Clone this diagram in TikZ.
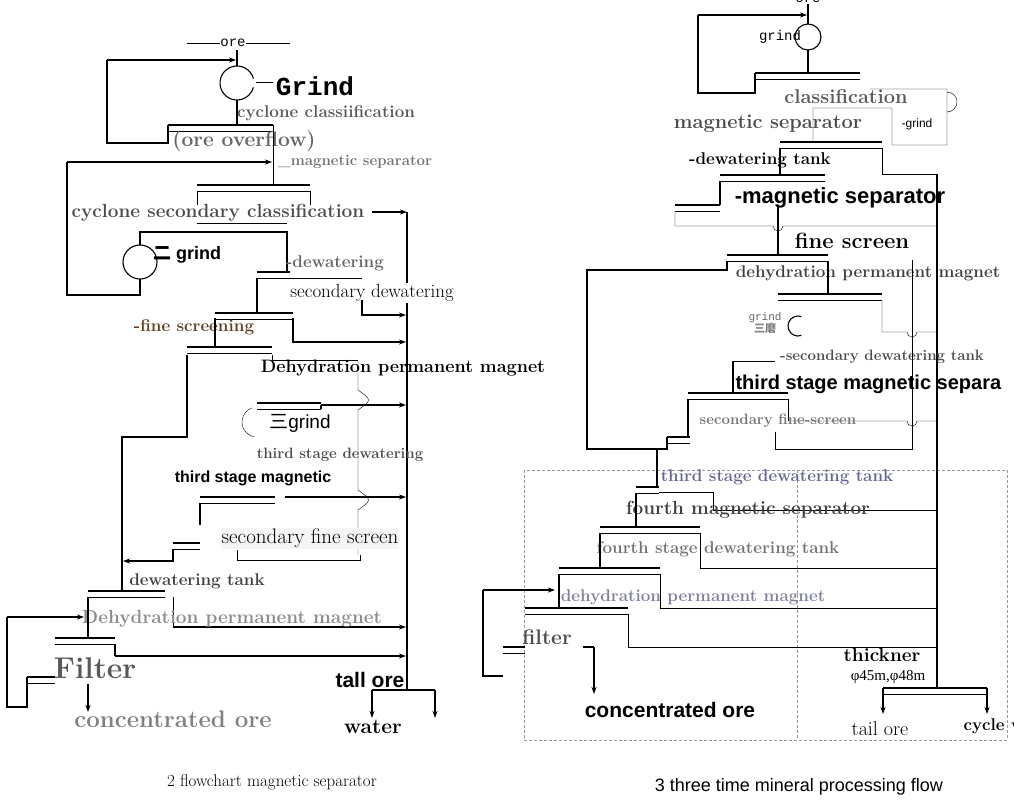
\documentclass[tikz,border=0pt]{standalone}
\usepackage{fontspec}
\newfontfamily\sansf{Liberation Sans}
\newfontfamily\monof{Liberation Mono}
\newfontfamily\seriff{Liberation Serif}
\newfontfamily\cjk{Noto Sans CJK SC}
\usetikzlibrary{arrows.meta}
\newcommand\eqb[3]{\draw[line width=2.2pt] (#1,#3) -- (#2,#3); \draw[thin] (#1,#3+6) -- (#2,#3+6);}
\begin{document}
\begin{tikzpicture}[x=1pt,y=-1pt,line width=1.1pt,
  ar/.style={-{Stealth[length=7pt,width=5pt]}},
  lb/.style={inner sep=1pt,font=\bfseries\fontsize{17}{17}\selectfont},
  gl/.style={lb,text=black!60},
  sb/.style={inner sep=1pt,font=\sansf\bfseries\fontsize{18}{18}\selectfont}]
\useasboundingbox (0,0) rectangle (1014,804);
\fill[white] (0,0) rectangle (1014,804);
% ================= LEFT =================
\draw[thin] (187,43) -- (290,43);
\node[inner sep=0,fill=white,font=\monof\fontsize{14}{14}\selectfont] (ore1) at (233,43) {ore};
\draw (237,50) -- (237,66);
\draw (237,83) ++(-15:17) arc (-15:-345:17);
\node[inner sep=1pt,font=\monof\bfseries\fontsize{26}{26}\selectfont] (grind1) at (315,86) {Grind};
\draw[thin] (256,82) -- (273,82);
\draw[ar] (107,60) -- (236,60);
\draw (107,60) -- (107,143) -- (168,143) -- (168,125);
\eqb{168}{273}{125}
\draw (237,100) -- (237,125);
\node[gl,text=black!65] (cc) at (326,113) {cyclone classiification};
\node[gl,font=\bfseries\fontsize{21}{21}\selectfont] (oo) at (244,141) {(ore overflow)};
\draw[thin] (273,125) -- (273,185);
\draw[ar] (67,162) -- (272,162);
\draw (67,162) -- (67,295) -- (140,295) -- (140,279);
\draw (140,262) circle (17);
\draw (140,245) -- (140,232) -- (287,232) -- (287,272);
\node[gl,text=black!55,font=\bfseries\fontsize{15}{15}\selectfont] (ms1) at (355,162) {\_magnetic separator};
\eqb{197}{310}{185}
\draw[thin] (197,191) -- (197,205); \draw[thin] (310,191) -- (310,205);
\node[lb,text=black!70,font=\bfseries\fontsize{19}{19}\selectfont] (csc) at (218,213) {cyclone secondary classification};
\draw[thick] (197,223) -- (287,223);
\draw[ar] (372,212) -- (407,212);
\draw (407,212) -- (407,690);
\node[sb] (g2) at (187,255) {{\cjk 二} grind};
\eqb{257}{290}{272}
\node[gl] (dw1) at (335,263) {-dewatering};
\draw[thin] (290,278) -- (362,278);
\node[inner sep=1pt,fill=white,font=\fontsize{19}{19}\selectfont] (sdw) at (372,293) {secondary dewatering};
\draw[ar] (362,300) -- (362,315) -- (406,315);
\draw (257,278) -- (257,313);
\eqb{215}{293}{313}
\draw[ar] (293,318) -- (293,342) -- (406,342);
\node[gl,text=black!50!brown] (fs1) at (194,327) {-fine screening};
\draw (215,318) -- (215,347);
\eqb{187}{272}{347}
\draw[thin] (272,355) -- (272,360) -- (358,360);
\draw[thin] (358,360) -- (358,390) .. controls (372,400) .. (358,410) -- (358,490) .. controls (372,500) .. (358,510) -- (358,555);
\node[lb,font=\bfseries\fontsize{18}{18}\selectfont] (dpm1) at (403,368) {Dehydration permanent magnet};
\draw (187,355) -- (187,437) -- (122,437) -- (122,591);
\eqb{257}{321}{403}
\draw (321,409) -- (321,405);
\draw[ar] (321,405) -- (406,405);
\draw[thin] (257,422) ++(100:15) arc (100:250:15);
\node[inner sep=1pt,font=\sansf\fontsize{19}{19}\selectfont] (g3) at (300,423) {{\cjk 三}grind};
\node[gl,text=black!70,font=\bfseries\fontsize{15}{15}\selectfont] (tsd) at (340,455) {third stage dewatering};
\node[sb,font=\sansf\bfseries\fontsize{16}{16}\selectfont] (tsm) at (253,478) {third stage magnetic};
\eqb{200}{275}{497}
\draw (200,503) -- (200,525);
\draw[ar] (285,497) -- (406,497);
\node[inner sep=1pt,fill=black!4,font=\fontsize{21}{21}\selectfont] (sfs) at (310,538) {secondary fine screen};
\eqb{173}{200}{543}
\draw[ar] (173,549) -- (173,561) -- (123,561);
\draw[thin] (237,550) -- (237,560) -- (360,560) -- (360,555);
\node[gl,text=black!75] (dt1) at (197,581) {dewatering tank};
\eqb{88}{165}{591}
\draw[thin] (173,597) -- (173,627);
\draw[ar] (173,627) -- (406,627);
\node[lb,text=black!45,font=\bfseries\fontsize{19}{19}\selectfont] (dpm2) at (232,619) {Dehydration permanent magnet};
\draw[ar] (7,617) -- (84,617);
\draw (7,617) -- (7,707) -- (27,707) -- (27,677);
\eqb{27}{55}{677}
\draw (88,597) -- (88,638);
\eqb{55}{115}{638}
\draw (115,644) -- (115,656);
\draw[ar] (115,656) -- (406,656);
\node[lb,text=black!65,font=\bfseries\fontsize{30}{30}\selectfont] (fil1) at (95,668) {Filter};
\draw[ar] (88,684) -- (88,712);
\node[lb,text=black!50,font=\bfseries\fontsize{24}{24}\selectfont] (co1) at (173,719) {concentrated ore};
\node[sb,font=\sansf\bfseries\fontsize{21}{21}\selectfont] (to1) at (370,680) {tall ore};
\draw (372,690) -- (435,690);
\draw[ar] (372,690) -- (372,718);
\draw[ar] (435,690) -- (435,718);
\node[lb,font=\bfseries\fontsize{21}{21}\selectfont] (wa) at (373,727) {water};
\node[font=\fontsize{17}{17}\selectfont] (cap1) at (272,782) {2 flowchart magnetic separator};
% ================= RIGHT =================
\draw[black!40,densely dashed,thin] (524,470) rectangle (1007,740);
\draw[black!40,densely dashed,thin] (797,470) -- (797,740);
\node[inner sep=0,font=\monof\fontsize{14}{14}\selectfont,anchor=south] (ore2) at (808,3) {ore};
\draw (808,4) -- (808,24);
\draw (808,37) circle (13);
\draw (808,50) -- (808,73);
\node[inner sep=0,font=\monof\fontsize{14}{14}\selectfont] (gr2) at (780,37) {grind};
\draw[ar] (698,15) -- (807,15);
\draw (698,15) -- (698,93) -- (755,93) -- (755,73);
\eqb{755}{860}{73}
\node[gl,text=black!65,font=\bfseries\fontsize{20}{20}\selectfont] (cl2) at (846,97) {classification};
\node[gl,text=black!70,font=\bfseries\fontsize{20}{20}\selectfont] (ms2) at (768,124) {magnetic separator};
\draw[thin] (870,89) -- (947,89) -- (947,112) arc (90:-90:10) -- (947,145) -- (892,145) -- (892,108) -- (813,108) -- (813,142);
\node[inner sep=0,font=\sansf\fontsize{12}{12}\selectfont] (gr3) at (917,124) {-grind};
\eqb{780}{882}{142}
\draw (780,148) -- (780,175);
\draw[thin] (882,148) -- (882,174) -- (937,174);
\draw (937,174) -- (937,688);
\node[lb] (dt2) at (760,160) {-dewatering tank};
\eqb{720}{825}{175}
\draw (720,181) -- (720,205);
\eqb{675}{720}{205}
\draw[thin] (675,211) -- (675,226) -- (773,226) arc (180:0:5) -- (937,226);
\node[sb,font=\sansf\bfseries\fontsize{22}{22}\selectfont] (ms3) at (840,198) {-magnetic separator};
\node[lb,font=\bfseries\fontsize{22}{22}\selectfont] (fs2) at (852,241) {fine screen};
\draw (778,205) -- (778,255);
\eqb{727}{828}{255}
\draw (727,261) -- (727,270) -- (587,270) -- (587,449) -- (667,449) -- (667,437);
\node[gl,text=black!75] (dpm3) at (868,273) {dehydration permanent magnet};
\draw (828,261) -- (828,294);
\eqb{778}{882}{294}
\draw[thin] (882,300) -- (882,332) -- (907,332) arc (180:0:5) -- (937,332);
\draw (798,326) ++(70:10) arc (70:290:10);
\node[inner sep=0,font=\monof\fontsize{11}{11}\selectfont,text=black!60] (gr4) at (765,318) {grind};
\node[inner sep=0,font=\cjk\bfseries\fontsize{11}{11}\selectfont,text=black!50] (gr4b) at (765,328) {三磨};
\node[gl,text=black!70,font=\bfseries\fontsize{15}{15}\selectfont] (sdt) at (882,357) {-secondary dewatering tank};
\draw[thick] (733,361) -- (775,361);
\draw (733,361) -- (733,393);
\node[sb,font=\sansf\bfseries\fontsize{20}{20}\selectfont,anchor=west] (tsm2) at (734,384) {third stage magnetic separa};
\eqb{688}{788}{393}
\draw[thin] (788,399) -- (788,421);
\draw[thin] (790,421) -- (907,421) arc (180:0:5) -- (937,421);
\draw[thin] (912,260) -- (912,449) -- (775,449) -- (775,432);
\node[gl,text=black!55,font=\bfseries\fontsize{15}{15}\selectfont] (sfs2) at (778,421) {secondary fine-screen};
\draw (688,399) -- (688,437);
\eqb{667}{690}{437}
\draw (657,449) -- (657,487);
\node[gl,text=black!70!blue!60] (tsdt) at (777,477) {third stage dewatering tank};
\eqb{636}{659}{487}
\draw[thin] (659,492) -- (713,492) -- (713,510) -- (937,510);
\node[lb,text=black!75,font=\bfseries\fontsize{19}{19}\selectfont] (fms) at (748,510) {fourth magnetic separator};
\draw (636,493) -- (636,527);
\eqb{600}{700}{527}
\draw[thin] (700,533) -- (700,568) -- (937,568);
\node[gl,text=black!55] (fsdt) at (718,549) {fourth stage dewatering tank};
\draw (600,533) -- (600,568);
\eqb{559}{660}{568}
\draw[thin] (660,574) -- (660,608) -- (937,608);
\draw[ar] (483,590) -- (555,590);
\draw (559,574) -- (559,608);
\node[gl,text=black!30!blue!25!gray!80] (dpm4) at (693,597) {dehydration permanent magnet};
\eqb{525}{628}{608}
\draw[thin] (628,614) -- (628,647) -- (937,647);
\draw (483,590) -- (483,676) -- (503,676);
\eqb{503}{525}{647}
\node[lb,text=black!70,font=\bfseries\fontsize{21}{21}\selectfont] (fil2) at (547,637) {filter};
\draw (583,647) -- (594,647);
\draw[ar] (594,647) -- (594,694);
\node[sb,font=\sansf\bfseries\fontsize{21}{21}\selectfont] (co2) at (670,710) {concentrated ore};
\node[lb,font=\bfseries\fontsize{19}{19}\selectfont] (th) at (882,655) {thickner};
\node[inner sep=0,font=\seriff\fontsize{15}{15}\selectfont] (phi) at (888,677) {φ45m,φ48m};
\eqb{883}{987}{688}
\draw[ar] (883,688) -- (883,714);
\draw[ar] (987,688) -- (987,714);
\node[font=\fontsize{20}{20}\selectfont] (to2) at (880,729) {tail ore};
\node[lb,anchor=west] (cw) at (962,726) {cycle w};
\node[font=\sansf\fontsize{18}{18}\selectfont,anchor=west] (cap2) at (651,787) {3 three time mineral processing flow};
\end{tikzpicture}
\end{document}
